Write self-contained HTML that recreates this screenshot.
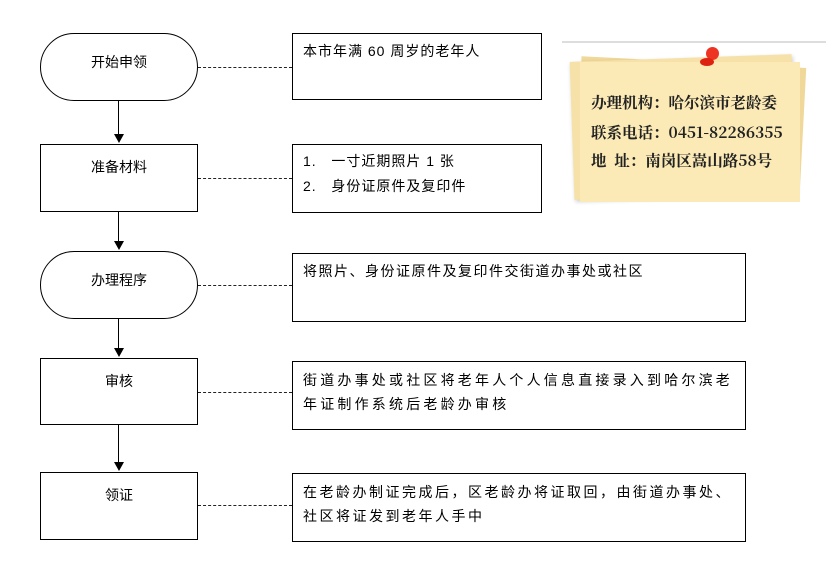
<!DOCTYPE html>
<html><head><meta charset="utf-8"><style>
body{margin:0;width:837px;height:579px;background:#fff;position:relative;overflow:hidden;font-family:"Liberation Sans","Noto Sans CJK SC",sans-serif;font-size:14px;color:#000}
.b{position:absolute;border:1.3px solid #000;box-sizing:border-box;background:#fff}
.l{text-align:center;padding-top:18px;font-size:14px}
.r{padding:8px 10px;font-size:14px;line-height:26px}
.d{position:absolute;height:0;border-top:1.5px dashed #222}
.v{position:absolute;width:1.3px;background:#000;left:118px}
.a{position:absolute;left:114px;width:0;height:0;border-left:5px solid transparent;border-right:5px solid transparent;border-top:9px solid #000}
.n{position:absolute;font-family:"Noto Serif CJK SC",serif;font-weight:bold;font-size:15.5px;color:#222;white-space:nowrap}
</style></head><body>
<div class="b l" style="left:40px;top:33px;width:158px;height:68px;border-radius:34px">开始申领</div>
<div class="b l" style="left:40px;top:144px;width:158px;height:68px;padding-top:12px">准备材料</div>
<div class="b l" style="left:40px;top:251px;width:158px;height:68px;border-radius:34px">办理程序</div>
<div class="b l" style="left:40px;top:358px;width:158px;height:67px;padding-top:12px">审核</div>
<div class="b l" style="left:40px;top:472px;width:158px;height:68px;padding-top:12px">领证</div>

<div class="v" style="top:101px;height:34px"></div><div class="a" style="top:134px"></div>
<div class="v" style="top:212px;height:30px"></div><div class="a" style="top:241px"></div>
<div class="v" style="top:319px;height:30px"></div><div class="a" style="top:348px"></div>
<div class="v" style="top:425px;height:38px"></div><div class="a" style="top:462px"></div>

<div class="d" style="left:198px;width:94px;top:67px"></div>
<div class="d" style="left:198px;width:94px;top:178px"></div>
<div class="d" style="left:198px;width:94px;top:285px"></div>
<div class="d" style="left:198px;width:94px;top:392px"></div>
<div class="d" style="left:198px;width:94px;top:505px"></div>

<div class="b r" style="left:292px;top:33px;width:250px;height:67px;padding-top:4px;letter-spacing:1px">本市年满 60 周岁的老年人</div>
<div class="b r" style="left:292px;top:144px;width:250px;height:69px;padding-top:4px;line-height:25px;letter-spacing:1px">1.&nbsp;&nbsp;&nbsp;一寸近期照片 1 张<br>2.&nbsp;&nbsp;&nbsp;身份证原件及复印件</div>
<div class="b r" style="left:292px;top:253px;width:454px;height:69px;padding-top:4px;letter-spacing:1.5px">将照片、身份证原件及复印件交街道办事处或社区</div>
<div class="b r" style="left:292px;top:361px;width:454px;height:69px;padding-top:6px;line-height:24px;letter-spacing:3.2px;white-space:nowrap">街道办事处或社区将老年人个人信息直接录入到哈尔滨老<br>年证制作系统后老龄办审核</div>
<div class="b r" style="left:292px;top:473px;width:454px;height:69px;padding-top:6px;line-height:24px;letter-spacing:2.5px;white-space:nowrap">在老龄办制证完成后，区老龄办将证取回，由街道办事处、<br>社区将证发到老年人手中</div>

<div style="position:absolute;left:562px;top:41px;width:264px;height:2px;background:#ddd"></div>
<div style="position:absolute;left:578px;top:62px;width:225px;height:130px;background:#f0d89a;transform:rotate(3deg)"></div>
<div style="position:absolute;left:572px;top:58px;width:222px;height:138px;background:#f6e2a8;transform:rotate(-2deg);box-shadow:1px 2px 4px rgba(0,0,0,.2)"></div>
<div style="position:absolute;left:580px;top:62px;width:220px;height:140px;background:#fbeab5"></div>
<div style="position:absolute;left:706px;top:47px;width:13px;height:13px;border-radius:50%;background:#e32"></div>
<div style="position:absolute;left:700px;top:58px;width:14px;height:8px;border-radius:50%;background:#d21"></div>
<div class="n" style="left:591px;top:91px">办理机构：哈尔滨市老龄委</div>
<div class="n" style="left:591px;top:121px">联系电话：0451-82286355</div>
<div class="n" style="left:591px;top:149px">地&nbsp;&nbsp;址：南岗区嵩山路58号</div>
</body></html>
